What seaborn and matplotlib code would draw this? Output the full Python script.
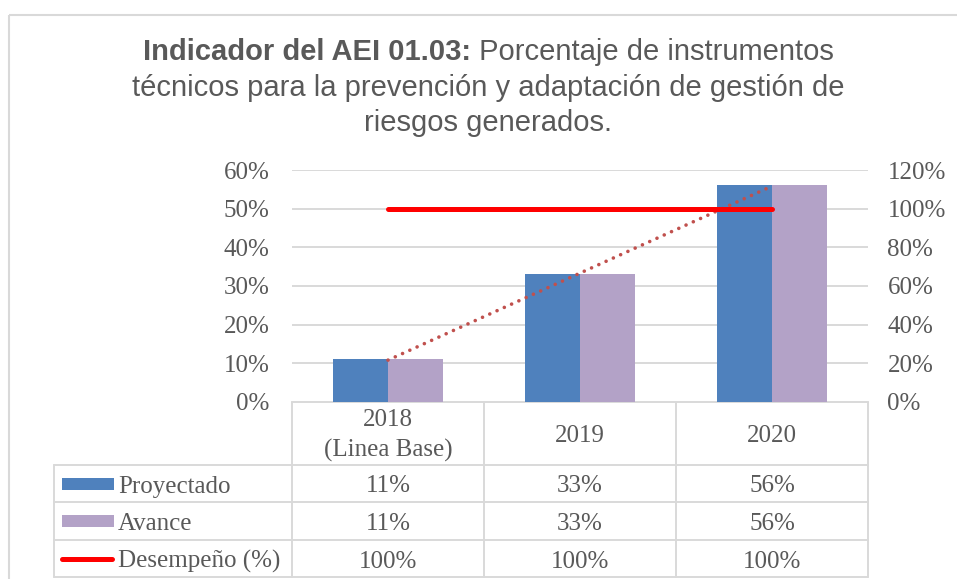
# Chart: Indicador del AEI 01.03 (bars + data table, Excel style)
import numpy as np
import pandas as pd
import matplotlib
matplotlib.use("Agg")
import matplotlib.pyplot as plt
from matplotlib.patches import Rectangle
import seaborn as sns

# Data
categories = ["2018\n(Linea Base)", "2019", "2020"]
proyectado = [0.11, 0.33, 0.56]
avance = [0.11, 0.33, 0.56]
desempeno = [1.00, 1.00, 1.00]
series_names = ["Proyectado", "Avance", "Desempeño (%)"]

left_ticks = [0, 0.1, 0.2, 0.3, 0.4, 0.5, 0.6]
right_ticks = [0, 0.2, 0.4, 0.6, 0.8, 1.0, 1.2]

# Colors
c_proy = "#4F81BD"
c_avan = "#B3A2C7"
c_desem = "#FF0000"
c_trend = "#C0504D"
c_grid = "#D9D9D9"
c_text = "#595959"

sns.set_theme(style="white")
plt.rcParams["font.family"] = ["Liberation Serif", "DejaVu Serif"]

W, H = 957, 579
fig = plt.figure(figsize=(W / 100, H / 100), dpi=100)

# pixel helpers
def fx(px):
    return px / W

def fy(py):
    return 1 - py / H

plot_l, plot_r, plot_t, plot_b = 292, 868, 170, 402
ax = fig.add_axes([fx(plot_l), fy(plot_b), fx(plot_r) - fx(plot_l), fy(plot_t) - fy(plot_b)])

df = pd.DataFrame({
    "cat": categories * 2,
    "serie": ["Proyectado"] * 3 + ["Avance"] * 3,
    "valor": proyectado + avance,
})
sns.barplot(data=df, x="cat", y="valor", hue="serie", ax=ax,
            palette=[c_proy, c_avan], width=0.573, linewidth=0,
            saturation=1, legend=False, zorder=3)

fs = 18
ax.set_xlim(-0.5, 2.5)
ax.set_ylim(0, 0.6)
ax.set_yticks(left_ticks)
ax.set_yticklabels([f"{v:.0%}" for v in left_ticks], color=c_text, fontsize=fs)
ax.set_xticks([])
ax.set_xlabel("")
ax.set_ylabel("")
ax.tick_params(axis="y", length=0, pad=16)
ax.grid(axis="y", color=c_grid, linewidth=1.4, zorder=0)
ax.set_axisbelow(True)
for s in ax.spines.values():
    s.set_visible(False)

# linear trendline of Avance
x = np.arange(len(avance))
m, b = np.polyfit(x, avance, 1)
ax.plot(x, m * x + b, color=c_trend, linewidth=2.6, linestyle=(0, (0.01, 2.2)),
        dash_capstyle="round", zorder=5)

# secondary axis for Desempeño
ax2 = ax.twinx()
ax2.set_ylim(0, 1.2)
ax2.set_yticks(right_ticks)
ax2.set_yticklabels([f"{v:.0%}" for v in right_ticks], color=c_text, fontsize=fs)
ax2.tick_params(axis="y", length=0, pad=14)
for s in ax2.spines.values():
    s.set_visible(False)
ax2.plot(x, desempeno, color=c_desem, linewidth=3.6, solid_capstyle="round", zorder=6)

# overlay axes in pixel coordinates for frame, title and data table
ov = fig.add_axes([0, 0, 1, 1], zorder=-1)
ov.set_xlim(0, W)
ov.set_ylim(H, 0)
ov.axis("off")

# outer chart border
ov.add_patch(Rectangle((8.5, 14.5), 960, 600, fill=False, edgecolor=c_grid, linewidth=1.5))

# title (bold part + normal part on first line)
fig.canvas.draw()
r = fig.canvas.get_renderer()
tfont = ["Liberation Sans", "DejaVu Sans"]
tfs = 21
t1 = ov.text(0, 52, "Indicador del AEI 01.03:", fontsize=tfs, fontweight="bold",
             family=tfont, color=c_text, va="center", ha="left")
t2 = ov.text(0, 52, " Porcentaje de instrumentos", fontsize=tfs,
             family=tfont, color=c_text, va="center", ha="left")
w1 = t1.get_window_extent(r).width
w2 = t2.get_window_extent(r).width
cx = 488
t1.set_x(cx - (w1 + w2) / 2)
t2.set_x(cx - (w1 + w2) / 2 + w1)
ov.text(cx, 88, "técnicos para la prevención y adaptación de gestión de", fontsize=tfs,
        family=tfont, color=c_text, va="center", ha="center")
ov.text(cx, 123, "riesgos generados.", fontsize=tfs,
        family=tfont, color=c_text, va="center", ha="center")

# data table
col_x = [plot_l, 484, 676, plot_r]
row_y = [plot_b, 465, 502, 540, 577]
tab_l = 54
lw_t = 1.4
ov.plot([plot_l, plot_r], [plot_b, plot_b], color=c_grid, lw=lw_t)
for yy in row_y[1:]:
    ov.plot([tab_l, plot_r], [yy, yy], color=c_grid, lw=lw_t)
for xx in col_x:
    ov.plot([xx, xx], [plot_b, row_y[-1]], color=c_grid, lw=lw_t)
ov.plot([tab_l, tab_l], [row_y[1], row_y[-1]], color=c_grid, lw=lw_t)

centers = [(col_x[i] + col_x[i + 1]) / 2 for i in range(3)]
for i, cat in enumerate(categories):
    ov.text(centers[i], (row_y[0] + row_y[1]) / 2 + 2, cat, ha="center", va="center",
            fontsize=fs, color=c_text, linespacing=1.4)

rows = [proyectado, avance, desempeno]
for j, vals in enumerate(rows):
    yc = (row_y[j + 1] + row_y[j + 2]) / 2
    for i, v in enumerate(vals):
        ov.text(centers[i], yc + 3, f"{v:.0%}", ha="center", va="center",
                fontsize=fs, color=c_text)
    ov.text(118, yc + 3, series_names[j], ha="left", va="center", fontsize=fs, color=c_text)

# legend keys in table
for j, col in enumerate([c_proy, c_avan]):
    yc = (row_y[j + 1] + row_y[j + 2]) / 2
    ov.add_patch(Rectangle((62, yc - 6), 52, 12, color=col, linewidth=0))
yc = (row_y[3] + row_y[4]) / 2
ov.plot([62, 112], [yc, yc], color=c_desem, lw=3.6, solid_capstyle="round")

fig.savefig("out.png", dpi=100)
